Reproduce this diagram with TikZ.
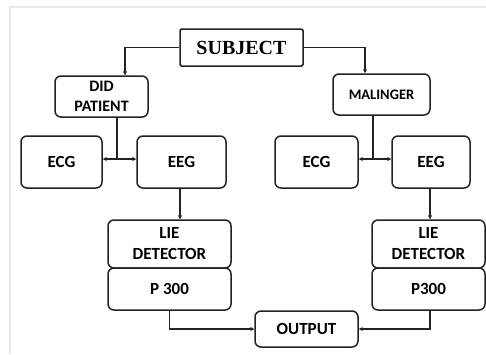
\documentclass[tikz,border=0pt]{standalone}
\usepackage{fontspec}
\setmainfont{Carlito}
\newfontfamily\subjfont{Liberation Serif}
\usepackage{xcolor}
\usetikzlibrary{arrows.meta,positioning,calc}
\definecolor{ink}{RGB}{35,35,35}
\definecolor{frame}{RGB}{232,232,232}
\tikzset{
  blk/.style={draw=ink, line width=1.5pt, rounded corners=6pt, fill=white, align=center,
    font=\bfseries\fontsize{17}{20}\selectfont, inner sep=1pt},
  top/.style={draw=ink, line width=1.5pt, rounded corners=1.5pt, fill=white,
    font=\subjfont\bfseries\fontsize{20}{22}\selectfont, inner sep=1pt},
  flow/.style={draw=ink, line width=1.3pt, -{Stealth[length=4pt,width=4pt]}},
  plain/.style={draw=ink, line width=1.3pt}
}
\begin{document}
\begin{tikzpicture}[x=1pt,y=-1pt]
  \useasboundingbox (0,0) rectangle (486,354);
  \fill[white] (0,0) rectangle (486,354);
  \draw[frame, line width=1.5pt] (10,354) -- (10,7) -- (486,7);
  % blocs
  \node[top, minimum width=123pt, minimum height=37pt] (subj) at (241.5,47.5){SUBJECT};
  \node[blk, minimum width=93pt, minimum height=41pt, font=\bfseries\fontsize{16}{20}\selectfont] (did) at (101.5,96.5){DID\\PATIENT};
  \node[blk, minimum width=97pt, minimum height=41pt, font=\bfseries\fontsize{14.5}{18}\selectfont] (mal) at (381.5,94.5){MALINGER};
  \node[blk, minimum width=81pt, minimum height=52pt] (ecgA) at (61.5,162){ECG};
  \node[blk, minimum width=89pt, minimum height=52pt] (eegA) at (181.5,162){EEG};
  \node[blk, minimum width=83pt, minimum height=52pt] (ecgB) at (316.5,162){ECG};
  \node[blk, minimum width=78pt, minimum height=52pt] (eegB) at (431,162){EEG};
  \node[blk, minimum width=123pt, minimum height=48pt, font=\bfseries\fontsize{17}{21}\selectfont] (lieA) at (169.5,244){LIE\\DETECTOR};
  \node[blk, minimum width=123pt, minimum height=42pt] (pA) at (169.5,289){P 300};
  \node[blk, minimum width=113pt, minimum height=48pt, font=\bfseries\fontsize{17}{21}\selectfont] (lieB) at (428.5,244){LIE\\DETECTOR};
  \node[blk, minimum width=113pt, minimum height=42pt] (pB) at (428.5,289){P300};
  \node[blk, minimum width=103pt, minimum height=36pt] (out) at (306.5,329){OUTPUT};
  % liaisons
  \coordinate (jA) at (117,159);
  \coordinate (jB) at (373,159);
  \draw[flow] (subj.west) -| ([xshift=23.5pt]did.north);
  \draw[flow] (subj.east) -| ([xshift=-16.5pt]mal.north);
  \draw[plain] (did.south -| jA) -- (jA);
  \draw[flow] (jA) -- (jA -| ecgA.east);
  \draw[flow] (jA) -- (jA -| eegA.west);
  \draw[plain] (mal.south -| jB) -- (jB);
  \draw[flow] (jB) -- (jB -| ecgB.east);
  \draw[flow] (jB) -- (jB -| eegB.west);
  \draw[flow] ([xshift=-1.5pt]eegA.south) -- ([xshift=-1.5pt]eegA.south |- lieA.north);
  \draw[flow] ([xshift=-1pt]eegB.south) -- ([xshift=-1pt]eegB.south |- lieB.north);
  \draw[flow] (pA.south) |- (out.west);
  \draw[flow] ([xshift=1.5pt]pB.south) |- (out.east);
\end{tikzpicture}
\end{document}
